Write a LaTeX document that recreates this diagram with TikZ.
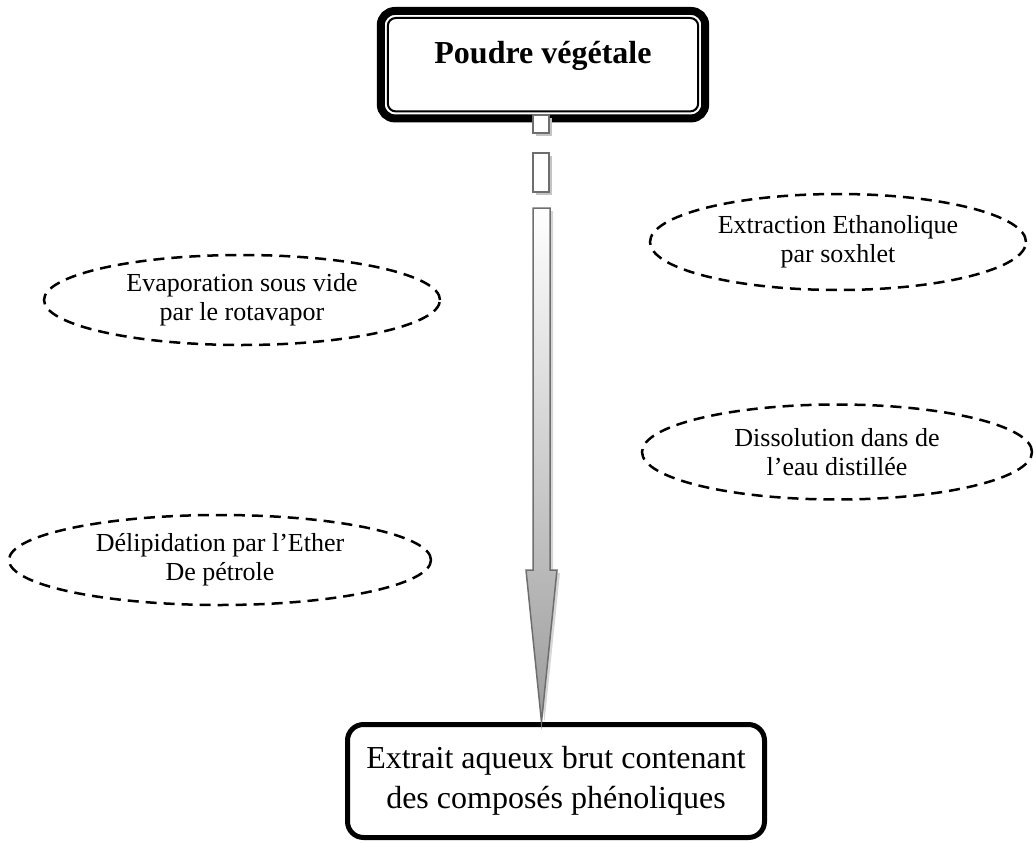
\documentclass[tikz,border=0pt]{standalone}
\usepackage{fontspec}
\setmainfont{Liberation Serif}
\usetikzlibrary{positioning, shapes.geometric}
\definecolor{arrowGray}{HTML}{6E6E6E}
\definecolor{shadowGray}{HTML}{C4C4C4}
\definecolor{fillGray}{HTML}{9C9C9C}

\begin{document}
\begin{tikzpicture}[x=1pt, y=-1pt,
    etape/.style={ellipse, draw, line width=2.5pt, dash pattern=on 11pt off 7pt,
          inner sep=0pt, align=center, font=\fontsize{26}{29}\selectfont},
    segment/.style={draw=arrowGray, line width=1.5pt, fill=white}]
    \useasboundingbox (0,0) rectangle (1036,843);

    \node[etape, minimum width=376pt, minimum height=96pt] (extraction) at (838,242)
      {Extraction Ethanolique\\par soxhlet};
    \node[etape, minimum width=396pt, minimum height=90pt] (evaporation) at (242,300)
      {Evaporation sous vide\\par le rotavapor};
    \node[etape, minimum width=390pt, minimum height=95pt] (dissolution) at (837,452)
      {Dissolution dans de\\l'eau distillée};
    \node[etape, minimum width=422pt, minimum height=90pt] (delipidation) at (220,560)
      {Délipidation par l'Ether\\De pétrole};

    \node[inner sep=0pt, minimum width=332pt, text height=56pt, text depth=59pt,
          anchor=north, font=\fontsize{32}{38}\selectfont\bfseries] (poudre) at (543,7)
      {Poudre végétale};
    \draw[line width=8pt, rounded corners=14pt]
      ([xshift=4pt,yshift=-4pt]poudre.north west) rectangle ([xshift=-4pt,yshift=4pt]poudre.south east);
    \draw[line width=2pt, rounded corners=8pt]
      ([xshift=11pt,yshift=-11pt]poudre.north west) rectangle ([xshift=-11pt,yshift=11pt]poudre.south east);

    \node[draw, line width=5pt, rounded corners=16pt, minimum width=417pt, minimum height=113pt,
          align=center, font=\fontsize{32}{40}\selectfont] (extrait) at (556,781)
      {Extrait aqueux brut contenant\\des composés phénoliques};

    \coordinate (pointe) at (541.5,722);
    \fill[shadowGray] (536,118) rectangle (552,136);
    \draw[segment] (533,115) rectangle (549,133);
    \fill[shadowGray] (536,156) rectangle (552,195);
    \draw[segment] (533,153) rectangle (549,192);
    \fill[shadowGray!70] (536,211) -- (553,211) -- (553,573) -- (560,573) -- (544.5,722)
      -- (529,573) -- (536,573) -- cycle;
    \path[draw=arrowGray, line width=1.5pt, top color=white, bottom color=fillGray]
      (533,208) -- (550,208) -- (550,570) -- (557,570) -- (pointe) -- (526,570) -- (533,570) -- cycle;
  \end{tikzpicture}
\end{document}
